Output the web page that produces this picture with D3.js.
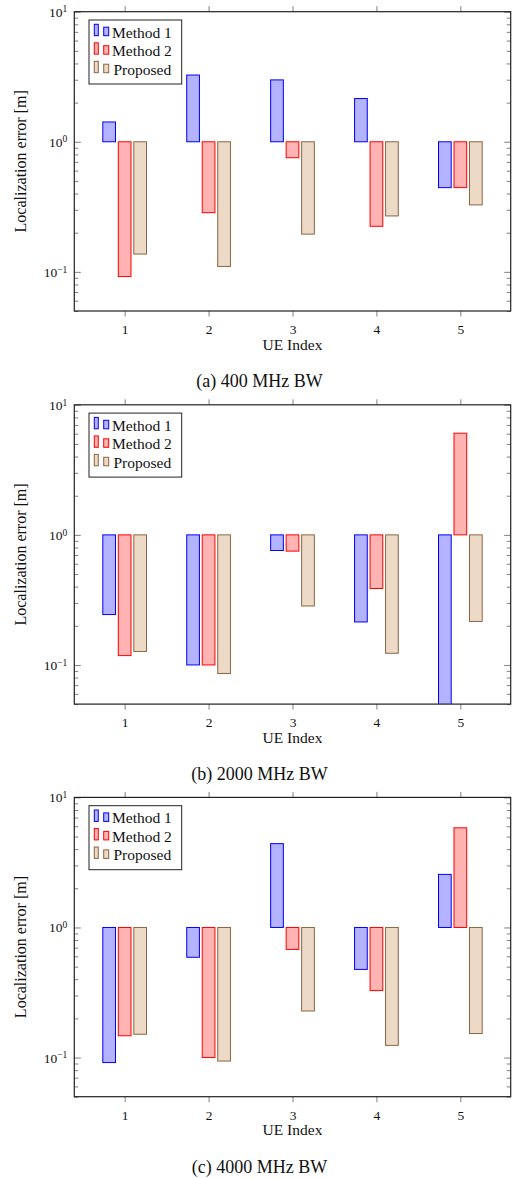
<!DOCTYPE html>
<html lang="en">

<head>
    <meta charset="UTF-8">
    <script src="https://d3js.org/d3.v7.min.js"></script>
    <style>
        body { margin: 0; background: #fff; }
        svg, svg text { font-family: 'Liberation Serif', 'Times New Roman', serif; }
    </style>
    <title>Localization error by UE</title>
</head>

<body>
    <script>
        // UE indices on the x axis and the three compared methods
        const ueIndex = [1, 2, 3, 4, 5];
        const seriesNames = ['Method 1', 'Method 2', 'Proposed'];
        const captions = ['(a) 400 MHz BW', '(b) 2000 MHz BW', '(c) 4000 MHz BW'];
        const yTickValues = [0.1, 1, 10];

        // localization error [m] (bars start at 1)
        const bw400Method1 = [1.42, 3.26, 2.99, 2.15, 0.444];
        const bw400Method2 = [0.092, 0.285, 0.754, 0.224, 0.444];
        const bw400Proposed = [0.137, 0.11, 0.195, 0.269, 0.327];

        const bw2000Method1 = [0.244, 0.1, 0.758, 0.214, 0.03];
        const bw2000Method2 = [0.118, 0.1, 0.75, 0.387, 6.05];
        const bw2000Proposed = [0.127, 0.086, 0.284, 0.123, 0.216];

        const bw4000Method1 = [0.0915, 0.59, 4.41, 0.476, 2.56];
        const bw4000Method2 = [0.147, 0.1, 0.678, 0.327, 5.84];
        const bw4000Proposed = [0.151, 0.094, 0.228, 0.124, 0.153];

        const panels = [
            [bw400Method1, bw400Method2, bw400Proposed],
            [bw2000Method1, bw2000Method2, bw2000Proposed],
            [bw4000Method1, bw4000Method2, bw4000Proposed]
        ];

        // pgfplots bar cycle colours
        const fillColors = ['#b3b3ff', '#ffb3b3', '#ecd9c6'];
        const strokeColors = ['#0000ff', '#ff0000', '#8a6642'];

        const svg = d3.select('body').append('svg')
            .attr('width', 514)
            .attr('height', 1178);

        const left = 74.3;
        const right = 510.7;
        const plotHeight = 299.3;
        const panelTops = [11.7, 404.8, 797.4];

        const xScale = d3.scaleLinear()
            .domain([0.4, 5.6])
            .range([left, right]);

        // offset of each method's bar around the UE tick
        const xSub = d3.scaleBand()
            .domain(seriesNames)
            .range([-21.85, 21.85])
            .paddingInner(0.18);

        panels.forEach(function (values, p) {
            const top = panelTops[p];
            const bottom = top + plotHeight;

            const yScale = d3.scaleLog()
                .domain([0.05, 10])
                .range([bottom, top]);

            const g = svg.append('g');

            // clip so bars below 0.05 stop at the frame
            g.append('clipPath')
                .attr('id', 'clip' + p)
                .append('rect')
                .attr('x', left)
                .attr('y', top)
                .attr('width', right - left)
                .attr('height', plotHeight);

            // bars, drawn from the baseline 1
            const bars = g.append('g').attr('clip-path', `url(#clip${p})`);
            seriesNames.forEach(function (name, s) {
                bars.selectAll(null)
                    .data(values[s])
                    .enter()
                    .append('rect')
                    .attr('x', (d, i) => xScale(ueIndex[i]) + xSub(name))
                    .attr('y', d => Math.min(yScale(d), yScale(1)))
                    .attr('width', xSub.bandwidth())
                    .attr('height', d => Math.abs(yScale(d) - yScale(1)))
                    .attr('fill', fillColors[s])
                    .attr('stroke', strokeColors[s])
                    .attr('stroke-width', 1);
            });

            const allTicks = yScale.ticks();
            const minorTicks = allTicks.filter(d => Math.abs(Math.log10(d) - Math.round(Math.log10(d))) > 1e-6);

            // y ticks, inside on both sides
            [[d3.axisRight, left], [d3.axisLeft, right]].forEach(function (a) {
                g.append('g')
                    .attr('transform', `translate(${a[1]}, 0)`)
                    .call(a[0](yScale).tickValues(minorTicks).tickSize(4).tickFormat(''))
                    .call(sel => sel.select('.domain').remove())
                    .selectAll('line').attr('stroke', '#808080');
                g.append('g')
                    .attr('transform', `translate(${a[1]}, 0)`)
                    .call(a[0](yScale).tickValues(yTickValues).tickSize(6.5).tickFormat(''))
                    .call(sel => sel.select('.domain').remove())
                    .selectAll('line').attr('stroke', '#808080');
            });

            // x ticks, outside at bottom and top
            const xAxisG = g.append('g')
                .attr('transform', `translate(0, ${bottom})`)
                .call(d3.axisBottom(xScale).tickValues(ueIndex).tickSize(5.5).tickPadding(8).tickFormat(d => d));
            xAxisG.select('.domain').remove();
            xAxisG.selectAll('line').attr('stroke', '#808080');
            xAxisG.selectAll('text')
                .style('font-family', "'Liberation Serif', 'Times New Roman', serif")
                .style('font-size', '13.5px')
                .attr('fill', '#111');
            g.append('g')
                .attr('transform', `translate(0, ${top})`)
                .call(d3.axisTop(xScale).tickValues(ueIndex).tickSize(5.5).tickFormat(''))
                .call(sel => sel.select('.domain').remove())
                .selectAll('line').attr('stroke', '#808080');

            // y tick labels 10^k
            const yLabels = g.selectAll(null)
                .data(yTickValues)
                .enter()
                .append('text')
                .attr('x', left - 7)
                .attr('y', d => yScale(d) + 5)
                .attr('text-anchor', 'end')
                .style('font-size', '13.5px')
                .attr('fill', '#111');
            yLabels.append('tspan').text('10');
            yLabels.append('tspan')
                .attr('dy', '-0.45em')
                .style('font-size', '9.5px')
                .text(d => Math.round(Math.log10(d)) < 0 ? '\u2212' + Math.abs(Math.round(Math.log10(d))) : Math.round(Math.log10(d)));

            // frame
            g.append('rect')
                .attr('x', left)
                .attr('y', top)
                .attr('width', right - left)
                .attr('height', plotHeight)
                .attr('fill', 'none')
                .attr('stroke', '#222')
                .attr('stroke-width', 1.2);

            // axis labels
            g.append('text')
                .attr('x', (left + right) / 2)
                .attr('y', bottom + 38.5)
                .attr('text-anchor', 'middle')
                .style('font-size', '15.5px')
                .attr('fill', '#111')
                .text('UE Index');

            g.append('text')
                .attr('transform', `translate(26, ${top + plotHeight / 2}) rotate(-90)`)
                .attr('text-anchor', 'middle')
                .style('font-size', '16px')
                .attr('fill', '#111')
                .text('Localization error [m]');

            // caption
            svg.append('text')
                .attr('x', 259.5)
                .attr('y', bottom + 76.3)
                .attr('text-anchor', 'middle')
                .style('font-size', '18px')
                .attr('fill', '#111')
                .text(captions[p]);

            // legend
            const legend = g.append('g')
                .attr('transform', `translate(${left + 14.7}, ${top + 8.3})`);

            legend.append('rect')
                .attr('width', 92.7)
                .attr('height', 64)
                .attr('fill', '#fff')
                .attr('stroke', '#222')
                .attr('stroke-width', 1);

            const items = legend.selectAll(null)
                .data(seriesNames)
                .enter()
                .append('g')
                .attr('transform', (d, i) => `translate(0, ${17.7 + i * 18.5})`);

            items.append('rect')
                .attr('x', 5.3)
                .attr('y', -13.4)
                .attr('width', 4)
                .attr('height', 11.4)
                .attr('fill', (d, i) => fillColors[i])
                .attr('stroke', (d, i) => strokeColors[i]);

            items.append('rect')
                .attr('x', 14.7)
                .attr('y', -10.5)
                .attr('width', 5)
                .attr('height', 8.5)
                .attr('fill', (d, i) => fillColors[i])
                .attr('stroke', (d, i) => strokeColors[i]);

            items.append('text')
                .attr('x', (d, i) => i === 2 ? 24.5 : 23)
                .attr('y', 0)
                .style('font-size', '15.5px')
                .attr('fill', '#111')
                .text(d => d);
        });
    </script>
</body>

</html>
